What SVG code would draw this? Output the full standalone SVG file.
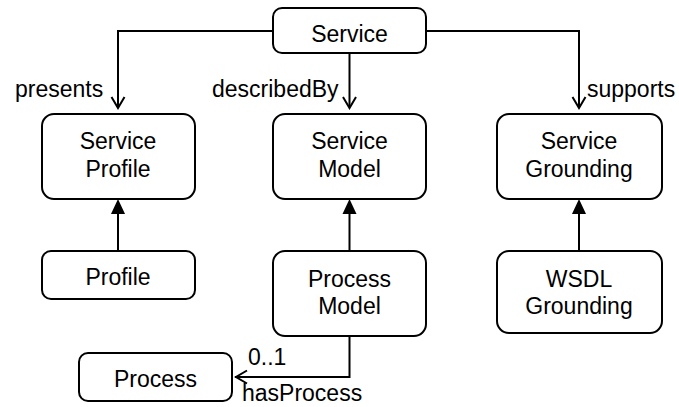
<svg xmlns="http://www.w3.org/2000/svg" width="679" height="407" viewBox="0 0 679 407">
  <style>
    .box { fill: #ffffff; stroke: #000000; stroke-width: 2; }
    .edge { fill: none; stroke: #000000; stroke-width: 2; }
    .open { fill: none; stroke: #000000; stroke-width: 2; }
    .solid { fill: #000000; stroke: none; }
    text { font-family: "Liberation Sans", Arial, Helvetica, sans-serif; font-size: 23px; fill: #000000; }
    .c { text-anchor: middle; }
  </style>
  <rect width="679" height="407" fill="#ffffff"/>

  <!-- connectors -->
  <g id="connectors">
    <!-- Service -> Service Profile (presents) -->
    <polyline class="edge" points="273,31 118,31 118,107"/>
    <polyline class="open" points="111.5,97 118,108 124.5,97"/>
    <!-- Service -> Service Model (describedBy) -->
    <line class="edge" x1="349.5" y1="53" x2="349.5" y2="107"/>
    <polyline class="open" points="343,97 349.5,108 356,97"/>
    <!-- Service -> Service Grounding (supports) -->
    <polyline class="edge" points="426,31 579,31 579,107"/>
    <polyline class="open" points="572.5,97 579,108 585.5,97"/>

    <!-- Profile -> Service Profile -->
    <line class="edge" x1="118" y1="251" x2="118" y2="212"/>
    <polygon class="solid" points="118,199 111,214 125,214"/>
    <!-- Process Model -> Service Model -->
    <line class="edge" x1="349.5" y1="251" x2="349.5" y2="212"/>
    <polygon class="solid" points="349.5,199 342.5,214 356.5,214"/>
    <!-- WSDL Grounding -> Service Grounding -->
    <line class="edge" x1="579" y1="251" x2="579" y2="212"/>
    <polygon class="solid" points="579,199 572,214 586,214"/>

    <!-- Process Model -> Process (hasProcess) -->
    <polyline class="edge" points="349.5,336 349.5,377 235,377"/>
    <polyline class="open" points="247,370.5 236,377 247,383.5"/>

    <text x="15" y="97">presents</text>
    <text x="212" y="97">describedBy</text>
    <text x="587" y="97">supports</text>
    <text x="248" y="365">0..1</text>
    <text x="242" y="401">hasProcess</text>
  </g>

  <g id="service">
    <rect class="box" x="273" y="8" width="153" height="45" rx="9"/>
    <text class="c" x="349.5" y="41.5">Service</text>
  </g>

  <g id="service-profile">
    <rect class="box" x="42" y="114" width="153" height="85" rx="12"/>
    <text class="c" x="118" y="149">Service</text>
    <text class="c" x="118" y="176.5">Profile</text>
  </g>

  <g id="service-model">
    <rect class="box" x="273" y="114" width="153" height="85" rx="12"/>
    <text class="c" x="349.5" y="149">Service</text>
    <text class="c" x="349.5" y="176.5">Model</text>
  </g>

  <g id="service-grounding">
    <rect class="box" x="497" y="114" width="165" height="85" rx="12"/>
    <text class="c" x="579" y="149">Service</text>
    <text class="c" x="579" y="176.5">Grounding</text>
  </g>

  <g id="profile">
    <rect class="box" x="42" y="251" width="153" height="48" rx="9"/>
    <text class="c" x="118" y="285">Profile</text>
  </g>

  <g id="process-model">
    <rect class="box" x="273" y="251" width="153" height="85" rx="12"/>
    <text class="c" x="349.5" y="287">Process</text>
    <text class="c" x="349.5" y="314">Model</text>
  </g>

  <g id="wsdl-grounding">
    <rect class="box" x="497" y="251" width="165" height="82" rx="12"/>
    <text class="c" x="579" y="287">WSDL</text>
    <text class="c" x="579" y="314">Grounding</text>
  </g>

  <g id="process">
    <rect class="box" x="79" y="353" width="153" height="48" rx="9"/>
    <text class="c" x="155.5" y="387">Process</text>
  </g>
</svg>
